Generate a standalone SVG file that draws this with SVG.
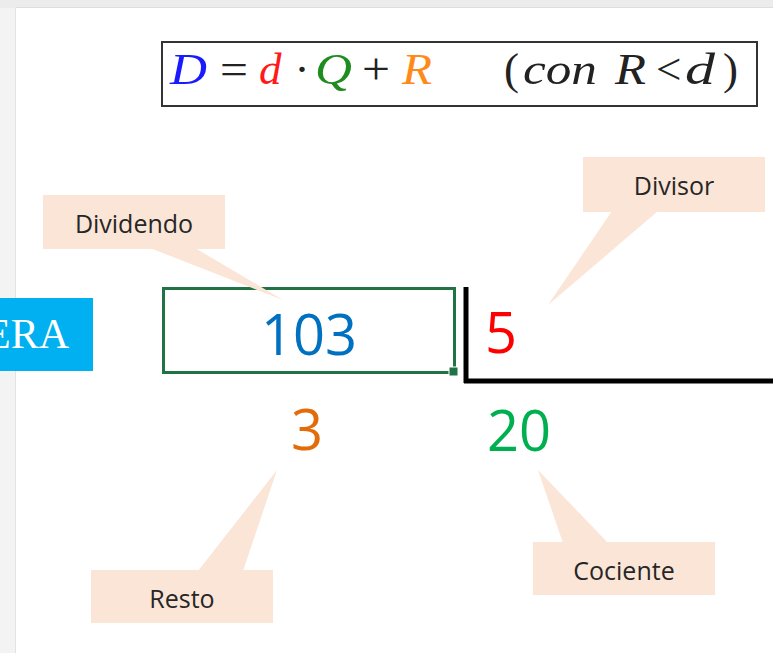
<svg xmlns="http://www.w3.org/2000/svg" width="773" height="653" viewBox="0 0 773 653">
<defs>
<style>
.bg{fill:#ffffff}
.callout{fill:#fbe5d6}
.lbl{font-family:"Open Sans","Noto Sans",sans-serif;font-size:25px;fill:#262626;text-anchor:middle}
.num{font-family:"Open Sans","Noto Sans",sans-serif;font-size:56px}
.mi{font-family:"Liberation Serif","Times New Roman",serif;font-style:italic;font-size:45px}
.mo{font-family:"Liberation Serif","Times New Roman",serif;font-size:45px;fill:#222}
</style>
</defs>
<rect x="0" y="0" width="773" height="653" fill="#f3f3f3"/>
<rect x="0" y="0" width="773" height="8" fill="#ececec"/>
<rect x="16" y="8" width="757" height="645" class="bg"/>
<line x1="16" y1="7.5" x2="773" y2="7.5" stroke="#dedede" stroke-width="1"/>
<line x1="15.5" y1="8" x2="15.5" y2="653" stroke="#e2e2e2" stroke-width="1"/>

<g id="formula">
<rect x="162" y="42" width="595" height="64" fill="#ffffff" stroke="#333333" stroke-width="2"/>
<text class="mi" x="170" y="84" fill="#1a1aff" textLength="37" lengthAdjust="spacingAndGlyphs">D</text>
<text class="mo" x="220" y="84" textLength="28" lengthAdjust="spacingAndGlyphs">=</text>
<text class="mi" x="259" y="84" fill="#ff1a1a">d</text>
<text class="mo" x="302" y="84" text-anchor="middle">·</text>
<text class="mi" x="315" y="84" fill="#1e8c1e" textLength="37" lengthAdjust="spacingAndGlyphs">Q</text>
<text class="mo" x="362" y="84" textLength="28" lengthAdjust="spacingAndGlyphs">+</text>
<text class="mi" x="402" y="84" fill="#ff8a1a" textLength="30" lengthAdjust="spacingAndGlyphs">R</text>
<text class="mo" x="504" y="84">(</text>
<text class="mi" x="523" y="84" fill="#222" textLength="74" lengthAdjust="spacingAndGlyphs">con</text>
<text class="mi" x="615" y="84" fill="#222" textLength="31" lengthAdjust="spacingAndGlyphs">R</text>
<text class="mo" x="656" y="84">&lt;</text>
<text class="mi" x="685" y="84" fill="#222" textLength="30" lengthAdjust="spacingAndGlyphs">d</text>
<text class="mo" x="723" y="84">)</text>
</g>

<g id="era">
<rect x="0" y="298" width="93" height="73" fill="#00b0f0"/>
<text x="69" y="348" text-anchor="end" font-family="Liberation Serif,serif" font-size="42" fill="#ffffff">ERA</text>
</g>

<g id="dividend">
<rect x="163.5" y="288.5" width="291" height="84" fill="none" stroke="#217346" stroke-width="3"/>
<rect x="449" y="367" width="9" height="9" fill="#217346" stroke="#ffffff" stroke-width="1"/>
<text class="num" x="309" y="355" text-anchor="middle" fill="#0070c0">103</text>
</g>

<g id="bracket">
<line x1="466" y1="287" x2="466" y2="383" stroke="#000" stroke-width="5"/>
<line x1="464" y1="381" x2="773" y2="381" stroke="#000" stroke-width="5"/>
</g>

<g id="divisor-num">
<text class="num" x="485" y="353" fill="#ff0000">5</text>
</g>
<g id="remainder">
<text class="num" x="307" y="450" text-anchor="middle" fill="#e36c0a">3</text>
</g>
<g id="quotient">
<text class="num" x="519" y="451" text-anchor="middle" fill="#00b050">20</text>
</g>

<g id="connectors">
<polygon class="callout" points="150,248 195,248 283,300"/>
<polygon class="callout" points="612,211 658,211 548,305"/>
<polygon class="callout" points="198,571 243,571 277,470"/>
<polygon class="callout" points="563,543 608,543 538,470"/>
</g>

<g id="lbl-dividendo">
<rect class="callout" x="43" y="195" width="182" height="54"/>
<text class="lbl" x="134" y="233">Dividendo</text>
</g>
<g id="lbl-divisor">
<rect class="callout" x="583" y="157" width="182" height="55"/>
<text class="lbl" x="674" y="195">Divisor</text>
</g>
<g id="lbl-resto">
<rect class="callout" x="91" y="570" width="182" height="53"/>
<text class="lbl" x="182" y="608">Resto</text>
</g>
<g id="lbl-cociente">
<rect class="callout" x="533" y="542" width="182" height="53"/>
<text class="lbl" x="624" y="580">Cociente</text>
</g>
</svg>
